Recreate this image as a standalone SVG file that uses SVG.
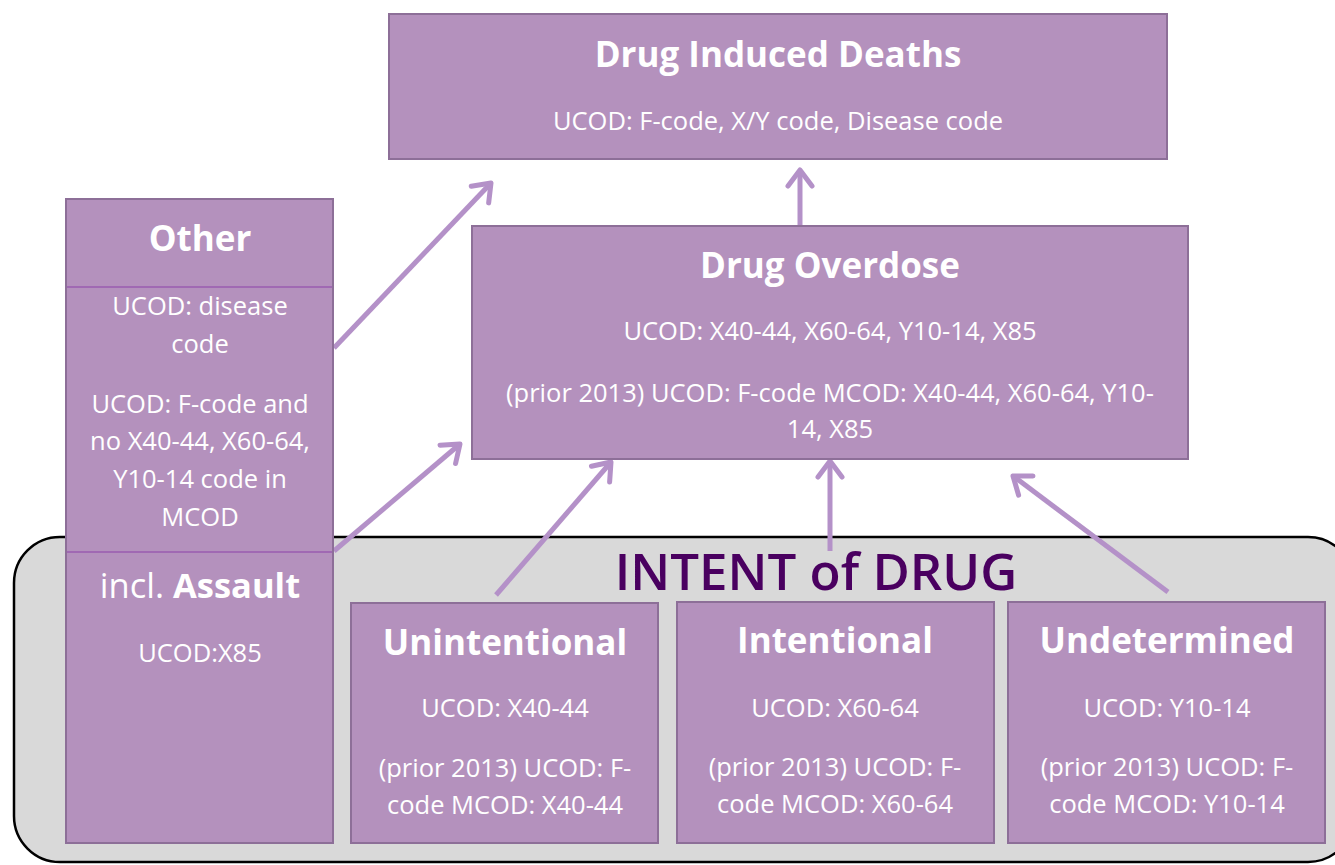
<svg xmlns="http://www.w3.org/2000/svg" width="1335" height="865" viewBox="0 0 1335 865">
<style>
.box{fill:#b491bd;stroke:#8d6f98;stroke-width:2}
.t{font-family:"Open Sans","Noto Sans",sans-serif;fill:#ffffff;text-anchor:middle}
.h{font-weight:700;font-size:35px}
.s{font-size:25.5px}
.arr{stroke:#b491c8;stroke-width:5;fill:none;marker-end:url(#ah)}
.div{stroke:#9a5db0;stroke-width:1.5}
</style>
<defs>
<marker id="ah" markerUnits="userSpaceOnUse" markerWidth="40" markerHeight="40" refX="20" refY="20" viewBox="0 0 40 40" orient="auto">
<path d="M4,8 L20,20 L4,32" fill="none" stroke="#b491c8" stroke-width="5" stroke-linecap="round" stroke-linejoin="round"/>
</marker>
</defs>
<rect width="1335" height="865" fill="#ffffff"/>
<g id="intent-group">
<rect x="14" y="537" width="1340" height="325" rx="46" ry="46" fill="#d9d9d9" stroke="#000000" stroke-width="2.5"/>
</g>
<g id="connectors">
<line class="arr" x1="800" y1="225" x2="800" y2="170"/>
<line class="arr" x1="334" y1="348" x2="491" y2="183"/>
<line class="arr" x1="334" y1="551" x2="460" y2="444"/>
<line class="arr" x1="496" y1="595" x2="611" y2="462"/>
<line class="arr" x1="830" y1="551" x2="830" y2="461"/>
<line class="arr" x1="1168" y1="592" x2="1013" y2="476"/>
</g>
<g id="intent-label">
<text x="816" y="590" font-family="'Open Sans','Noto Sans',sans-serif" font-size="51" font-weight="600" fill="#4a0060" text-anchor="middle">INTENT of DRUG</text>
</g>
<g id="drug-induced-deaths">
<rect class="box" x="389" y="14" width="778" height="145"/>
<text class="t h" x="778" y="67">Drug Induced Deaths</text>
<text class="t s" x="778" y="130">UCOD: F-code, X/Y code, Disease code</text>
</g>
<g id="drug-overdose">
<rect class="box" x="472" y="226" width="716" height="233"/>
<text class="t h" x="830" y="278">Drug Overdose</text>
<text class="t s" x="830" y="340">UCOD: X40-44, X60-64, Y10-14, X85</text>
<text class="t s" x="830" y="402">(prior 2013) UCOD: F-code MCOD: X40-44, X60-64, Y10-</text>
<text class="t s" x="830" y="438">14, X85</text>
</g>
<g id="other">
<rect class="box" x="66" y="199" width="267" height="644"/>
<line class="div" x1="67" y1="287" x2="332" y2="287"/>
<line class="div" x1="67" y1="552" x2="332" y2="552"/>
<text class="t h" x="200" y="251">Other</text>
<text class="t s" x="200" y="315">UCOD: disease</text>
<text class="t s" x="200" y="353">code</text>
<text class="t s" x="200" y="413">UCOD: F-code and</text>
<text class="t s" x="200" y="450">no X40-44, X60-64,</text>
<text class="t s" x="200" y="488">Y10-14 code in</text>
<text class="t s" x="200" y="526">MCOD</text>
<text class="t" x="200" y="598" font-size="34.5"><tspan>incl. </tspan><tspan font-weight="700">Assault</tspan></text>
<text class="t s" x="200" y="662">UCOD:X85</text>
</g>
<g id="unintentional">
<rect class="box" x="351" y="603" width="307" height="240"/>
<text class="t h" x="505" y="655">Unintentional</text>
<text class="t s" x="505" y="717">UCOD: X40-44</text>
<text class="t s" x="505" y="777">(prior 2013) UCOD: F-</text>
<text class="t s" x="505" y="814">code MCOD: X40-44</text>
</g>
<g id="intentional">
<rect class="box" x="677" y="602" width="317" height="241"/>
<text class="t h" x="835" y="653">Intentional</text>
<text class="t s" x="835" y="717">UCOD: X60-64</text>
<text class="t s" x="835" y="776">(prior 2013) UCOD: F-</text>
<text class="t s" x="835" y="813">code MCOD: X60-64</text>
</g>
<g id="undetermined">
<rect class="box" x="1008" y="602" width="317" height="241"/>
<text class="t h" x="1167" y="653">Undetermined</text>
<text class="t s" x="1167" y="717">UCOD: Y10-14</text>
<text class="t s" x="1167" y="776">(prior 2013) UCOD: F-</text>
<text class="t s" x="1167" y="813">code MCOD: Y10-14</text>
</g>
</svg>
